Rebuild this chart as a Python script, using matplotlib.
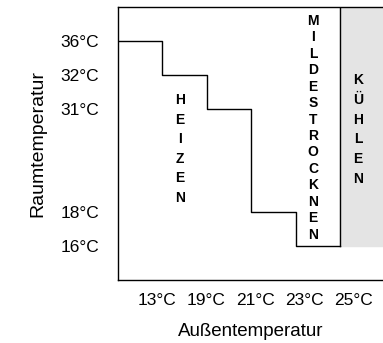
import numpy as np
import matplotlib.pyplot as plt

plt.rcParams['font.family'] = 'sans-serif'
plt.rcParams['font.sans-serif'] = ['Liberation Sans', 'DejaVu Sans']

# Außentemperatur-Schwellen und Raumtemperatur-Stufen
aussen = ['13°C', '19°C', '21°C', '23°C', '25°C']
raum = ['16°C', '18°C', '31°C', '32°C', '36°C']
raum_pos = [1, 2, 5, 6, 7]
stufen = [7, 6, 5, 2, 1]          # Stufe je Intervall (Position auf der y-Achse)
bereiche = ['HEIZEN', 'MILDESTROCKNEN', 'KÜHLEN']

fig = plt.figure(figsize=(3.83, 3.43), dpi=100)
ax = fig.add_axes([118/383, 1 - 280/343, 1 - 118/383, 273/343])

x = np.arange(0, len(aussen) + 1)
y = stufen + [stufen[-1]]
ax.step(x, y, where='post', color='black', lw=1)

# Kühlbereich
xmax = (383 - 118) / 44.4
ax.fill_between([5, xmax], stufen[-1], 8, color='#e4e4e4', zorder=0)
ax.plot([5, 5], [stufen[-1], 8], color='black', lw=1)

ax.set_xlim(0, xmax)
ax.set_ylim(0, 8)
# Beschriftungen etwas weiter auseinander als die Stufen
ax.set_xticks(0.88 + 1.104 * np.arange(len(aussen)))
ax.set_xticklabels(aussen, fontsize=12.5)
ax.set_yticks(raum_pos)
ax.set_yticklabels(raum, fontsize=12.5)
ax.tick_params(length=0)
ax.tick_params(axis='y', pad=13.5)
ax.tick_params(axis='x', pad=9.5)
ax.spines['right'].set_visible(False)
for s in ['left', 'top', 'bottom']:
    ax.spines[s].set_linewidth(1)

ax.set_xlabel('Außentemperatur', fontsize=13.5, labelpad=11)
ax.set_ylabel('Raumtemperatur', fontsize=14, labelpad=10)

ax.text(1.40, 3.84, '\n'.join(bereiche[0]), ha='center', va='center',
        fontsize=10, fontweight='bold', linespacing=1.51)
ax.text(4.39, 4.46, '\n'.join(bereiche[1]), ha='center', va='center',
        fontsize=10, fontweight='bold', linespacing=1.22)
ax.text(5.41, 4.41, '\n'.join(bereiche[2]), ha='center', va='center',
        fontsize=10, fontweight='bold', linespacing=1.51)

fig.savefig('out.png', dpi=100)
